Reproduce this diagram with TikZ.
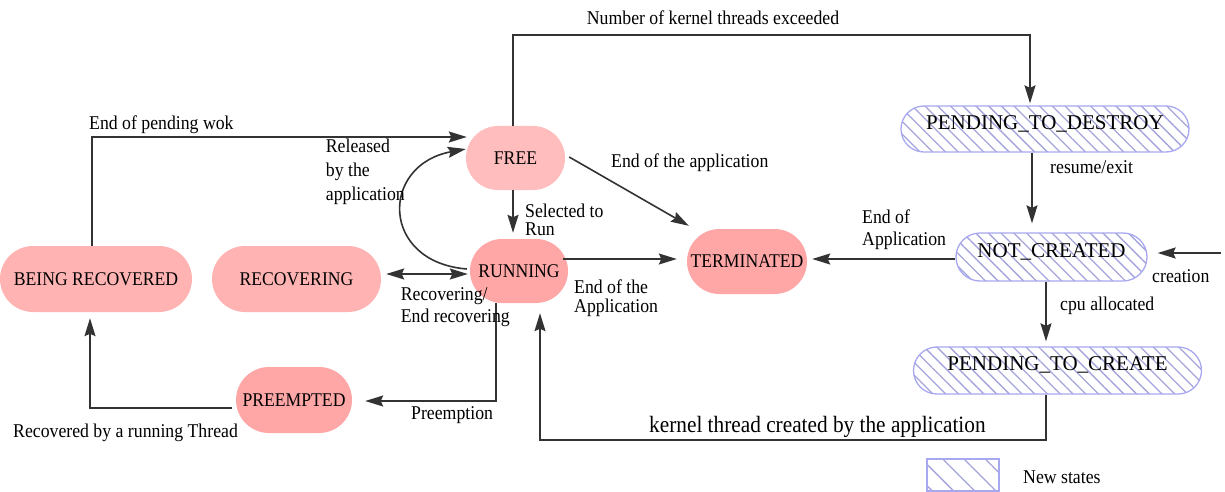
\documentclass[tikz,border=0pt]{standalone}
\usepackage{fontspec}
\setmainfont{Liberation Serif}
\newfontfamily\lf[FakeStretch=0.91]{Liberation Serif}
\usetikzlibrary{arrows.meta,patterns.meta}
\definecolor{lc}{HTML}{333333}
\definecolor{pkA}{HTML}{FFBDBD}
\definecolor{pkB}{HTML}{FFB3B3}
\definecolor{pkC}{HTML}{FFA6A6}
\definecolor{hb}{HTML}{A8A8F0}
\definecolor{hc}{HTML}{A4A4DC}
\begin{document}
\begin{tikzpicture}[x=1pt,y=-1pt,
  tip/.tip={Stealth[length=18pt,width=11pt,inset=2.5pt]},
  arr/.style={draw=lc, line width=1.6pt, -tip},
  arrtwo/.style={draw=lc, line width=1.6pt, tip-tip},
  pink/.style={rectangle, fill=#1, inner sep=0pt, font=\lf\fontsize{19.4}{23}\selectfont},
  newst/.style={rectangle, draw=hb, line width=1.3pt,
    pattern={Lines[angle=-45,distance=9pt,line width=1.3pt]}, pattern color=hc,
    inner sep=0pt, font=\fontsize{21}{25}\selectfont},
  lbl/.style={inner sep=0pt, anchor=base west, align=left, font=\lf\fontsize{19.5}{23}\selectfont},
]
\useasboundingbox (0,0) rectangle (1225,492);

% states
\node[pink=pkA, minimum width=99pt, minimum height=64pt, rounded corners=32pt] (FREE) at (515.5,158) {FREE};
\node[pink=pkC, minimum width=98pt, minimum height=64pt, rounded corners=32pt] (RUN) at (519,271) {RUNNING};
\node[pink=pkB, minimum width=192pt, minimum height=66pt, rounded corners=33pt] (BEING) at (96,279) {BEING RECOVERED};
\node[pink=pkB, minimum width=169pt, minimum height=66pt, rounded corners=33pt] (RECOV) at (296.5,279) {RECOVERING};
\node[pink=pkC, minimum width=116pt, minimum height=66pt, rounded corners=33pt] (PRE) at (294,400) {PREEMPTED};
\node[pink=pkC, minimum width=120pt, minimum height=65pt, rounded corners=32.5pt] (TERM) at (747,261.5) {TERMINATED};
\node[newst, minimum width=288pt, minimum height=46pt, rounded corners=23pt] (PTD) at (1045,129) {\smash{PENDING\_TO\_DESTROY}};
\node[newst, minimum width=191pt, minimum height=48pt, rounded corners=24pt] (NC) at (1051.5,257) {\smash{NOT\_CREATED}};
\node[newst, minimum width=288pt, minimum height=47pt, rounded corners=23.5pt] (PTC) at (1057.5,370.5) {\smash{PENDING\_TO\_CREATE}};

% legend
\node[rectangle, draw=hb, line width=1.3pt, inner sep=0pt,
  pattern={Lines[angle=-45,distance=15pt,line width=1.3pt]}, pattern color=hc,
  minimum width=72pt, minimum height=32pt] (LEG) at (963,475) {};
\node[lbl] (LEGT) at (1023,483) {New states};

% connectors
\coordinate (cr) at (1221,253);
\draw[arr] ([xshift=-2.8pt]FREE.north) |- (1030,35) -- ([xshift=-15pt,yshift=2pt]PTD.north);
\draw[arr] ([xshift=-13pt]PTD.south) -- ([xshift=-19.5pt,yshift=9pt]NC.north);
\draw[arr] ([yshift=-2pt]NC.west) -- ([xshift=5pt,yshift=2.5pt]TERM.east);
\draw[arr] (cr) -- ([xshift=10pt,yshift=4pt]NC.east);
\draw[arr] ([xshift=-5.5pt]NC.south) -- ([xshift=-11.5pt,yshift=5pt]PTC.north);
\draw[arr] ([xshift=-11.5pt]PTC.south) |- (540,440) -- ([xshift=21pt,yshift=-10pt]RUN.south);
\draw[arr] ([xshift=4pt,yshift=1pt]FREE.east) -- ([xshift=2pt,yshift=3pt]TERM.north west);
\draw[arr] ([xshift=-2.5pt]FREE.south) -- ([xshift=-6pt,yshift=6pt]RUN.north);
\draw[arr] ([xshift=-5pt,yshift=12pt]RUN.east) -- ([xshift=-10pt,yshift=2.5pt]TERM.west);
\draw[arrtwo] ([xshift=5pt,yshift=5pt]RECOV.east) -- ([xshift=-2pt,yshift=-3pt]RUN.west);
\draw[arr] ([xshift=-3pt,yshift=2pt]RUN.west) .. controls (380,262) and (380,165) .. ([yshift=9pt]FREE.west);
\draw[arr] ([xshift=-4pt]BEING.north) |- ([xshift=1pt,yshift=21pt]FREE.west);
\draw[arr] ([xshift=-23pt]RUN.south) |- ([xshift=13pt,yshift=-1pt]PRE.east);
\draw[arr] ([xshift=-4pt,yshift=-8pt]PRE.west) -| ([xshift=-6pt,yshift=-6pt]BEING.south);

% labels (multi-line labels are placed at the baseline of their last line)
\node[lbl] (L1) at (586.7,25) {Number of kernel threads exceeded};
\node[lbl] (L2) at (1050,173) {resume/exit};
\node[lbl, font=\lf\fontsize{19.5}{22}\selectfont] (L3) at (862,245) {End of\\Application};
\node[lbl] (L4) at (1152,282) {creation};
\node[lbl] (L5) at (1060,310) {cpu allocated};
\node[lbl, font=\lf\fontsize{23.4}{27}\selectfont] (L6) at (649,432) {kernel thread created by the application};
\node[lbl] (L7) at (611,167) {End of the application};
\node[lbl, font=\lf\fontsize{19.5}{18}\selectfont] (L8) at (525,235) {Selected to\\Run};
\node[lbl, font=\lf\fontsize{19.5}{19}\selectfont] (L9) at (574,312) {End of the\\Application};
\node[lbl, font=\lf\fontsize{19.5}{22}\selectfont] (L10) at (400.7,322) {Recovering/\\End recovering};
\node[lbl, font=\lf\fontsize{19.5}{24}\selectfont] (L11) at (325.7,200) {Released\\by the\\application};
\node[lbl] (L12) at (89,129) {End of pending wok};
\node[lbl] (L13) at (411,419) {Preemption};
\node[lbl] (L14) at (13,437) {Recovered by a running Thread};
\end{tikzpicture}
\end{document}
